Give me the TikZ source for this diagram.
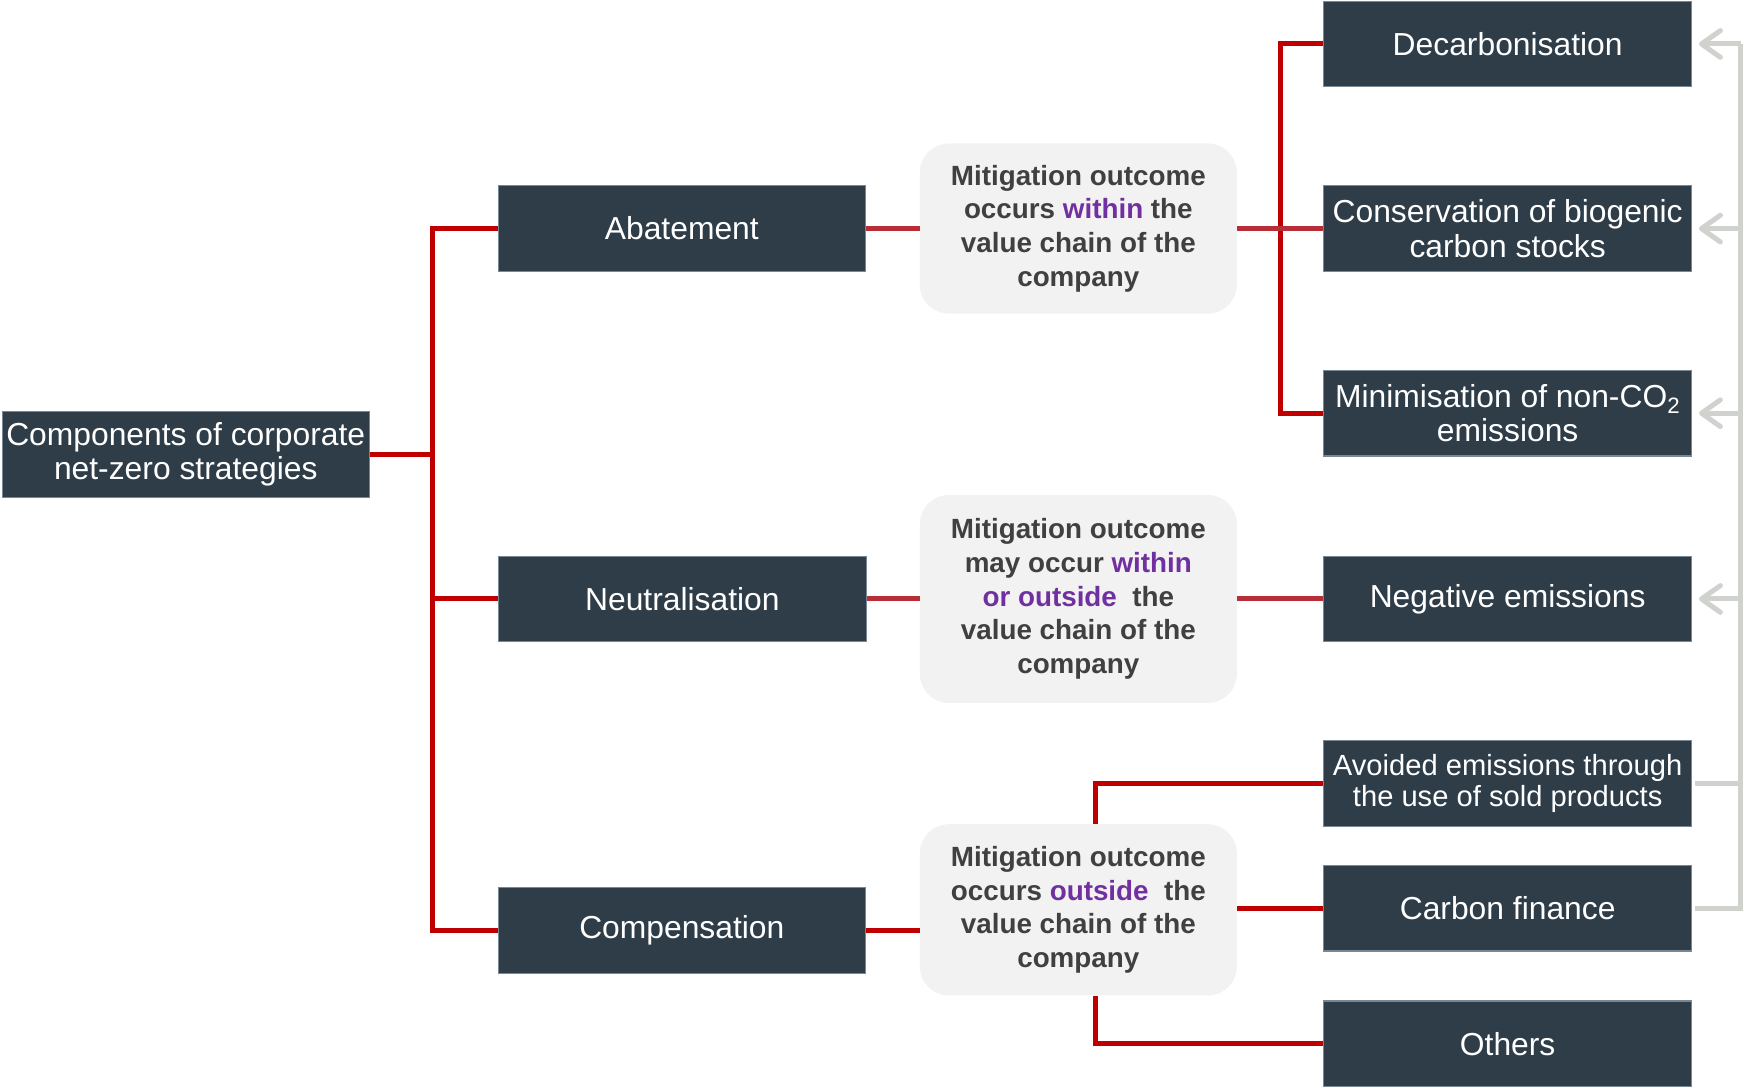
\documentclass[tikz,border=0pt]{standalone}
\usepackage{fontspec}
\setmainfont{Liberation Sans}
\usetikzlibrary{arrows.meta}
\definecolor{boxblue}{RGB}{46,61,72}
\definecolor{boxedge}{RGB}{120,135,148}
\definecolor{outgray}{RGB}{242,242,242}
\definecolor{outtext}{RGB}{64,64,64}
\definecolor{hlpurple}{RGB}{112,48,160}
\definecolor{linkred}{RGB}{192,0,0}
\definecolor{softred}{RGB}{184,46,54}
\definecolor{railgray}{RGB}{208,210,206}
\newcommand{\hl}[1]{\textcolor{hlpurple}{#1}}
\tikzset{
  darkbox/.style={fill=boxblue, draw=boxedge, line width=1pt, text=white, inner sep=0pt,
    minimum width=331pt, minimum height=77pt, align=center,
    font=\fontsize{28.6}{31}\selectfont},
  outcome/.style={fill=outgray, rounded corners=26pt, inner sep=0pt, minimum width=285pt,
    text=outtext, align=center, font=\fontsize{25}{30.3}\selectfont\bfseries},
  link/.style={draw=linkred, line width=4.5pt},
  softlink/.style={draw=softred, line width=4.5pt},
  rail/.style={draw=railgray, line width=4.5pt},
  railarrow/.style={draw=railgray, line width=4.5pt, -{Straight Barb[length=17pt,width=24pt,round]}}
}
\begin{document}
\begin{tikzpicture}[x=1pt,y=-1pt]
  \useasboundingbox (0,0) rectangle (1568,978);
  \node[darkbox, minimum width=330pt] (root) at (167,408.5) {Components of corporate\\net-zero strategies};
  \node[darkbox, minimum width=330pt] (abate) at (613,205.5) {Abatement};
  \node[darkbox] (neutral) at (613.5,538.5) {Neutralisation};
  \node[darkbox, minimum width=330pt] (comp) at (613,836.5) {Compensation};
  \node[outcome, minimum height=153pt] (within) at (969.5,205.5)
    {Mitigation outcome\\occurs \hl{within} the\\value chain of the\\company};
  \node[outcome, minimum height=187pt] (either) at (969.5,538.5)
    {Mitigation outcome\\may occur \hl{within}\\\hl{or outside}\ \ the\\value chain of the\\company};
  \node[outcome, minimum height=154pt] (outside) at (969.5,818)
    {Mitigation outcome\\occurs \hl{outside}\ \ the\\value chain of the\\company};
  \node[darkbox] (decarb) at (1355.5,39.5) {Decarbonisation};
  \node[darkbox] (biogen) at (1355.5,205.5) {Conservation of biogenic\\carbon stocks};
  \node[darkbox] (nonco) at (1355.5,371.5) {Minimisation of non-CO\textsubscript{2}\\emissions};
  \node[darkbox] (negem) at (1355.5,538.5) {Negative emissions};
  \node[darkbox, font=\fontsize{26.2}{28}\selectfont] (avoided) at (1355.5,704.5) {Avoided emissions through\\the use of sold products};
  \node[darkbox] (cfin) at (1355.5,816.5) {Carbon finance};
  \node[darkbox] (others) at (1355.5,938.5) {Others};
  \coordinate (split) at (389,408.5);
  \coordinate (fork) at (1151,205.5);
  \coordinate (railtop) at (1565,39.5);
  % left tree
  \draw[link] (root.east) -- (split);
  \draw[link] (abate.west) -| (split) |- (comp.west);
  \draw[link] (split |- neutral.west) -- (neutral.west);
  \draw[softlink] (abate.east) -- (within.west);
  \draw[softlink] (neutral.east) -- (either.west);
  \draw[link] (comp.east) -- (comp.east -| outside.west);
  % right tree
  \draw[link] (decarb.west) -| (fork) |- (nonco.west);
  \draw[softlink] (within.east) -- (biogen.west);
  \draw[softlink] (either.east) -- (negem.west);
  \draw[link] ([xshift=15.5pt]outside.north) |- (avoided.west);
  \draw[link] (outside.east |- cfin.west) -- (cfin.west);
  \draw[link] ([xshift=15.5pt]outside.south) |- (others.west);
  % feedback rail
  \draw[rail] ([xshift=2pt]cfin.east) -| (railtop);
  \draw[rail] ([xshift=2pt]avoided.east) -- (avoided.east -| railtop);
  \draw[railarrow] (railtop) -- ([xshift=6pt]decarb.east);
  \draw[railarrow] (biogen.east -| railtop) -- ([xshift=6pt]biogen.east);
  \draw[railarrow] (nonco.east -| railtop) -- ([xshift=6pt]nonco.east);
  \draw[railarrow] (negem.east -| railtop) -- ([xshift=6pt]negem.east);
\end{tikzpicture}
\end{document}
